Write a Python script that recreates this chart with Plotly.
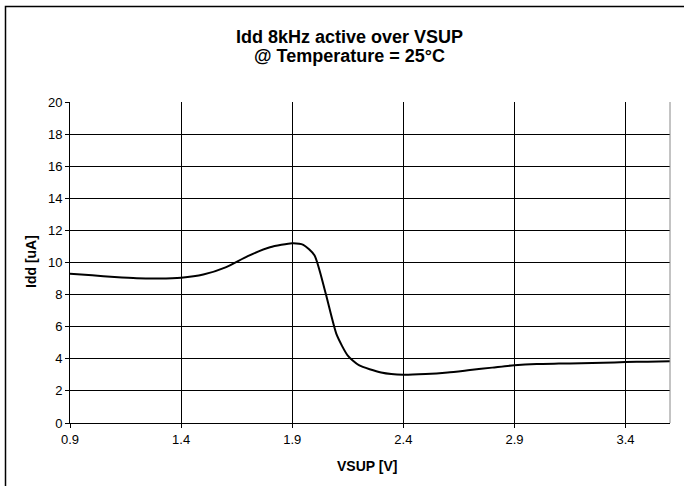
import plotly.graph_objects as go

vsup = [0.9, 1.0, 1.1, 1.2, 1.3, 1.4, 1.5, 1.6, 1.7, 1.8, 1.9, 1.95, 2.0, 2.05, 2.1,
        2.15, 2.2, 2.3, 2.4, 2.5, 2.6, 2.7, 2.8, 2.9, 3.0, 3.1, 3.2, 3.3, 3.4, 3.5, 3.6]
idd = [9.3, 9.2, 9.1, 9.02, 9.0, 9.05, 9.25, 9.7, 10.4, 10.95, 11.2, 11.1, 10.45, 8.1, 5.5,
       4.2, 3.6, 3.15, 3.0, 3.05, 3.15, 3.3, 3.45, 3.6, 3.68, 3.7, 3.72, 3.75, 3.8, 3.82, 3.85]
x_ticks = [0.9, 1.4, 1.9, 2.4, 2.9, 3.4]
y_ticks = [0, 2, 4, 6, 8, 10, 12, 14, 16, 18, 20]
title_lines = ["Idd 8kHz active over VSUP", "@ Temperature = 25°C"]

W, H = 684, 486
ml, mr, mt, mb = 70, 14, 102, 63
pw, ph = W - ml - mr, H - mt - mb

def px_x(p):
    return (p - ml) / pw

def px_y(p):
    return (mt + ph - p) / ph

fig = go.Figure()
fig.add_trace(go.Scatter(x=vsup, y=idd, mode="lines",
                         line=dict(color="black", width=2, shape="spline", smoothing=0.6),
                         showlegend=False, hoverinfo="skip"))

font = "Liberation Sans, Arial, sans-serif"
fig.update_layout(
    width=W, height=H,
    margin=dict(l=ml, r=mr, t=mt, b=mb, autoexpand=False),
    paper_bgcolor="white", plot_bgcolor="white",
    font=dict(family=font, size=13, color="black"),
    xaxis=dict(range=[0.9, 3.6], tickvals=x_ticks, ticktext=[f"{v:.1f}" for v in x_ticks],
               showgrid=True, gridcolor="black", gridwidth=1,
               showline=True, linecolor="black", linewidth=1,
               ticks="outside", ticklen=4, tickcolor="black",
               zeroline=False, tickfont=dict(size=13)),
    yaxis=dict(range=[0, 20], tickvals=y_ticks,
               showgrid=True, gridcolor="black", gridwidth=1,
               showline=True, linecolor="black", linewidth=1,
               ticks="outside", ticklen=4, tickcolor="black",
               zeroline=False, tickfont=dict(size=13)),
)

# title lines
for i, t in enumerate(title_lines):
    fig.add_annotation(text=f"<b>{t}</b>", xref="paper", yref="paper",
                       x=px_x(349), y=px_y(37 + 19.5 * i), xanchor="center", yanchor="middle",
                       showarrow=False, font=dict(family=font, size=18, color="black"))

# axis titles
fig.add_annotation(text="<b>VSUP [V]</b>", xref="paper", yref="paper",
                   x=px_x(367), y=px_y(466), xanchor="center", yanchor="middle",
                   showarrow=False, font=dict(family=font, size=14, color="black"))
fig.add_annotation(text="<b>Idd [uA]</b>", xref="paper", yref="paper",
                   x=px_x(31), y=px_y(262), xanchor="center", yanchor="middle", textangle=-90,
                   showarrow=False, font=dict(family=font, size=14, color="black"))

# plot area right edge line (grey)
fig.add_shape(type="line", xref="paper", yref="paper", x0=1, x1=1, y0=0, y1=1,
              line=dict(color="#888888", width=1))

# outer chart frame
fig.add_shape(type="rect", xref="paper", yref="paper",
              x0=px_x(5.5), x1=px_x(W + 10), y0=px_y(H + 10), y1=px_y(6.5),
              line=dict(color="black", width=1.5), layer="below")

fig.write_html("out.html", config={"displayModeBar": False},
               post_script="document.body.style.margin='0';")
